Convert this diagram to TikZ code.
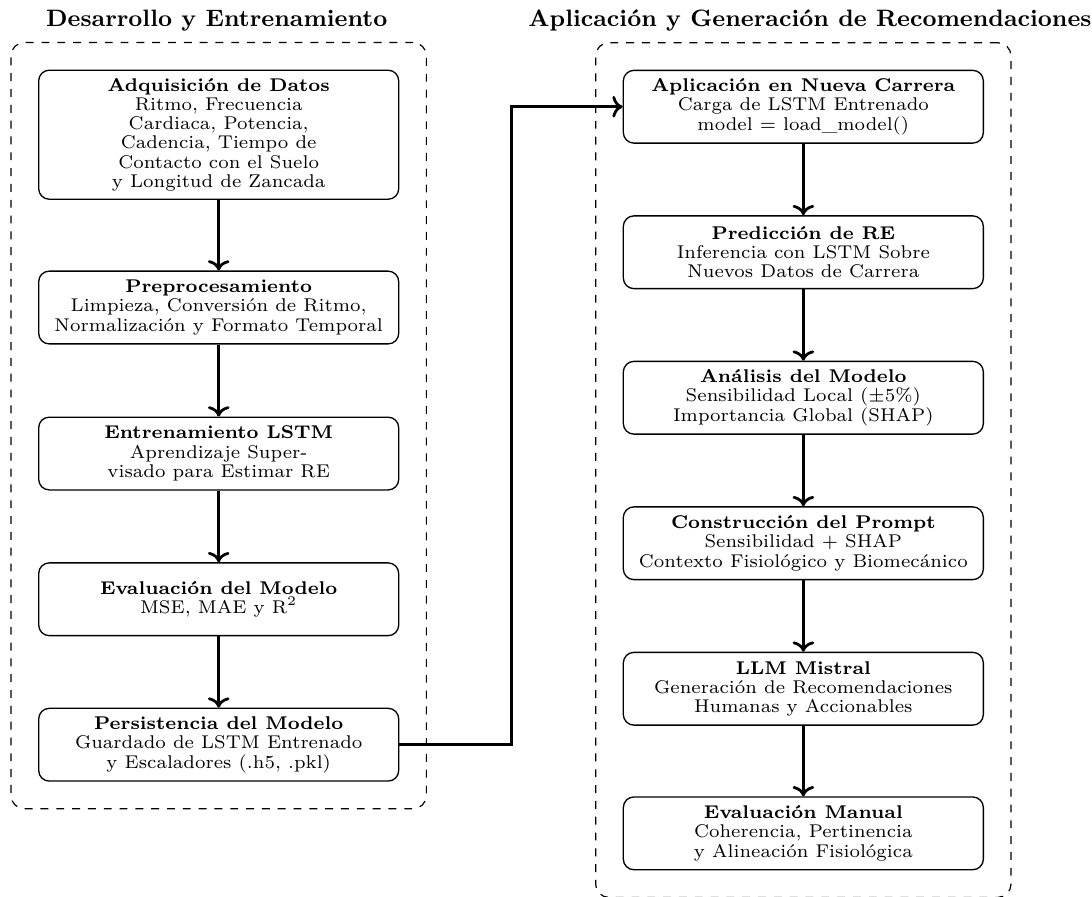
\documentclass[tikz,border=0pt]{standalone}
\usepackage{tikz}
\usetikzlibrary{arrows.meta,fit,positioning}
\newcommand{\flowstep}[4] {\node at (#1) (#2) [stepbox] {\textbf{#3}\\#4};}
\newcommand{\flowarrow}[2] {\draw [flowline] (#1) -- (#2);}
\tikzset{
  stepbox/.style={rectangle, draw, line width=0.5pt, rounded corners, align=center,
    minimum width=4.8cm, minimum height=0.97cm, inner sep=2pt,
    font=\fontsize{7}{7.3}\selectfont},
  groupbox/.style={rectangle, draw, dashed, line width=0.45pt, rounded corners=5pt, inner sep=0.36cm},
  grouptitle/.style={font=\small\bfseries},
  flowline/.style={->, line width=1.05pt}
}

\begin{document}
\begin{tikzpicture}

\useasboundingbox (0,0) rectangle (14.56,-11.947);

% desarrollo
\node at (2.916,-1.796) (adquisicion) [stepbox, minimum height=1.72cm] {\textbf{Adquisición de Datos}\\Ritmo, Frecuencia\\Cardiaca, Potencia,\\Cadencia, Tiempo de\\Contacto con el Suelo\\y Longitud de Zancada};
\flowstep{2.916,-4.1}{preproceso}{Preprocesamiento}{Limpieza, Conversión de Ritmo,\\Normalización y Formato Temporal}
\flowstep{2.916,-6.047}{entrenamiento}{Entrenamiento LSTM}{Aprendizaje Super-\\visado para Estimar RE}
\flowstep{2.916,-7.99}{evaluacion}{Evaluación del Modelo}{MSE, MAE y R$^{2}$}
\flowstep{2.916,-9.929}{persistencia}{Persistencia del Modelo}{Guardado de LSTM Entrenado\\y Escaladores (.h5, .pkl)}

% aplicacion
\flowstep{10.711,-1.423}{aplicacion}{Aplicación en Nueva Carrera}{Carga de LSTM Entrenado\\model = load\_model()}
\flowstep{10.711,-3.363}{prediccion}{Predicción de RE}{Inferencia con LSTM Sobre\\Nuevos Datos de Carrera}
\flowstep{10.711,-5.303}{analisis}{Análisis del Modelo}{Sensibilidad Local ($\pm$5\%)\\Importancia Global (SHAP)}
\flowstep{10.711,-7.243}{prompt}{Construcción del Prompt}{Sensibilidad + SHAP\\Contexto Fisiológico y Biomecánico}
\flowstep{10.711,-9.183}{mistral}{LLM Mistral}{Generación de Recomendaciones\\Humanas y Accionables}
\flowstep{10.711,-11.111}{evalmanual}{Evaluación Manual}{Coherencia, Pertinencia\\y Alineación Fisiológica}

% grupos
\node [groupbox, fit=(adquisicion)(persistencia)] (desarrollo) {};
\node [groupbox, fit=(aplicacion)(evalmanual)] (generacion) {};
\node at (2.89,-0.28) (titulodes) [grouptitle] {Desarrollo y Entrenamiento};
\node at (10.8,-0.28) (tituloapl) [grouptitle] {Aplicación y Generación de Recomendaciones};

\flowarrow{adquisicion}{preproceso}
\flowarrow{preproceso}{entrenamiento}
\flowarrow{entrenamiento}{evaluacion}
\flowarrow{evaluacion}{persistencia}
\draw [flowline] (persistencia.east) -- ++(1.5,0) |- (aplicacion.west);
\flowarrow{aplicacion}{prediccion}
\flowarrow{prediccion}{analisis}
\flowarrow{analisis}{prompt}
\flowarrow{prompt}{mistral}
\flowarrow{mistral}{evalmanual}

\end{tikzpicture}
\end{document}
